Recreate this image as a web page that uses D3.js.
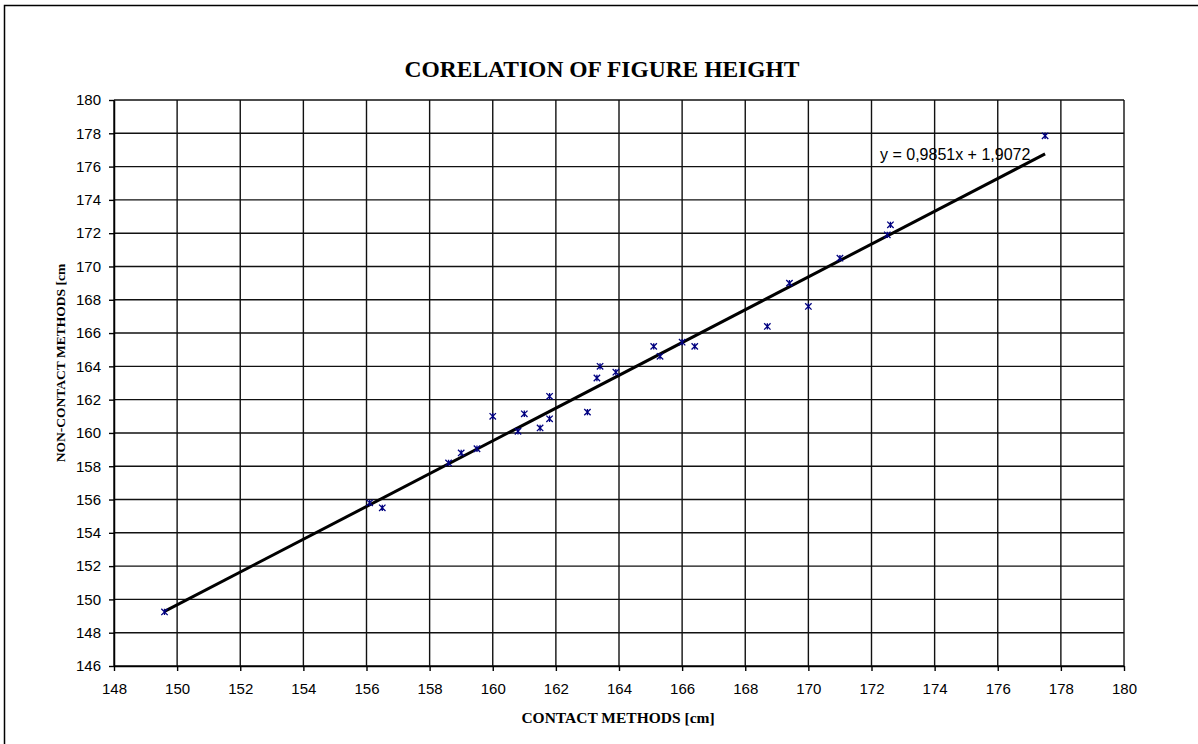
<!DOCTYPE html>
<html>
<head>
<meta charset="utf-8">
<script src="https://cdn.jsdelivr.net/npm/d3@7"></script>
<style>
  body { margin: 0; background: #fff; }
  svg { display: block; }
</style>
</head>
<body>
<svg id="scatter"></svg>
<script>
// measured heights, contact vs non-contact [cm]
let contactCm = [149.6, 156.1, 156.5, 158.6, 159.0, 159.5, 160.0, 160.8, 161.0, 161.5,
  161.8, 161.8, 163.0, 163.3, 163.4, 163.9, 165.1, 165.3, 166.0, 166.4,
  168.7, 169.4, 170.0, 171.0, 172.5, 172.6, 177.5];
let nonContactCm = [149.25, 155.8, 155.5, 158.2, 158.8, 159.05, 161.0, 160.1, 161.15, 160.3,
  160.85, 162.2, 161.25, 163.3, 164.0, 163.65, 165.2, 164.6, 165.45, 165.2,
  166.4, 169.0, 167.6, 170.5, 171.9, 172.5, 177.85];

// linear trend shown on the chart
let trendSlope = 0.9851;
let trendIntercept = 1.9072;
let trendLabel = 'y = 0,9851x + 1,9072';

let xTicks = d3.range(148, 181, 2);
let yTicks = d3.range(146, 181, 2);

let titleText = 'CORELATION OF FIGURE HEIGHT';
let xTitle = 'CONTACT METHODS [cm]';
let yTitle = 'NON-CONTACT METHODS [cm';

// svg / plot config
let config = { svg: {}, plot: {} };
config.svg.width = 1198;
config.svg.height = 744;
config.plot.left = 114;
config.plot.right = 1124;
config.plot.top = 100;
config.plot.bottom = 666;

let svg = d3.select('#scatter')
  .attr('width', config.svg.width)
  .attr('height', config.svg.height);

// outer frame (runs off the right and bottom edges)
svg.append('rect')
  .attr('x', 4.5)
  .attr('y', 5.5)
  .attr('width', 1300)
  .attr('height', 900)
  .attr('fill', 'none')
  .attr('stroke', '#000')
  .attr('stroke-width', 1.5);

let x = d3.scaleLinear()
  .domain([148, 180])
  .range([config.plot.left, config.plot.right]);

let y = d3.scaleLinear()
  .domain([146, 180])
  .range([config.plot.bottom, config.plot.top]);

// grid lines
let grid = svg.append('g').attr('class', 'grid');
grid.selectAll('line.h')
  .data(yTicks)
  .join('line')
  .attr('class', 'h')
  .attr('x1', config.plot.left)
  .attr('x2', config.plot.right)
  .attr('y1', d => y(d))
  .attr('y2', d => y(d))
  .attr('stroke', '#111')
  .attr('stroke-width', 1.4);

grid.selectAll('line.v')
  .data(xTicks)
  .join('line')
  .attr('class', 'v')
  .attr('y1', config.plot.top)
  .attr('y2', config.plot.bottom)
  .attr('x1', d => x(d))
  .attr('x2', d => x(d))
  .attr('stroke', '#111')
  .attr('stroke-width', 1.4);

// axes
let xAxis = d3.axisBottom(x)
  .tickValues(xTicks)
  .tickSize(5)
  .tickSizeOuter(0)
  .tickPadding(12)
  .tickFormat(d3.format('d'));

let yAxis = d3.axisLeft(y)
  .tickValues(yTicks)
  .tickSize(5)
  .tickSizeOuter(0)
  .tickPadding(8)
  .tickFormat(d3.format('d'));

let xGroup = svg.append('g')
  .attr('transform', translate(0, config.plot.bottom))
  .call(xAxis);

let yGroup = svg.append('g')
  .attr('transform', translate(config.plot.left, 0))
  .call(yAxis);

[xGroup, yGroup].forEach(g => {
  g.selectAll('path.domain').attr('stroke', '#000').attr('stroke-width', 1.5);
  g.selectAll('.tick line').attr('stroke', '#000').attr('stroke-width', 1.4);
  g.selectAll('.tick text')
    .attr('fill', '#000')
    .style('font-family', '"Liberation Sans", Arial, sans-serif')
    .style('font-size', '15px');
});

// trend line from min to max of contact data
let xMin = d3.min(contactCm);
let xMax = d3.max(contactCm);
let trendPts = [xMin, xMax].map(v => [v, trendSlope * v + trendIntercept]);

svg.append('path')
  .datum(trendPts)
  .attr('fill', 'none')
  .attr('stroke', '#000')
  .attr('stroke-width', 3)
  .attr('d', d3.line().x(d => x(d[0])).y(d => y(d[1])));

// star markers (x plus vertical bar)
let pairs = contactCm.map((c, i) => ({ c: c, n: nonContactCm[i] }));
let r = 3.2;
svg.append('g')
  .selectAll('path')
  .data(pairs)
  .join('path')
  .attr('transform', d => translate(x(d.c), y(d.n)))
  .attr('d', 'M' + -r + ',' + -r + 'L' + r + ',' + r +
    'M' + -r + ',' + r + 'L' + r + ',' + -r +
    'M0,' + -r + 'L0,' + r)
  .attr('fill', 'none')
  .attr('stroke', '#000080')
  .attr('stroke-width', 1.3);

// trend equation
svg.append('text')
  .attr('x', 880)
  .attr('y', 160)
  .style('font-family', '"Liberation Sans", Arial, sans-serif')
  .style('font-size', '16px')
  .text(trendLabel);

// titles
svg.append('text')
  .attr('x', 602)
  .attr('y', 77)
  .attr('text-anchor', 'middle')
  .style('font-family', '"Liberation Serif", "Times New Roman", serif')
  .style('font-weight', 'bold')
  .style('font-size', '23.5px')
  .text(titleText);

svg.append('text')
  .attr('x', 618)
  .attr('y', 723)
  .attr('text-anchor', 'middle')
  .style('font-family', '"Liberation Serif", "Times New Roman", serif')
  .style('font-weight', 'bold')
  .style('font-size', '15.5px')
  .text(xTitle);

svg.append('text')
  .attr('transform', translate(65, 363) + ' rotate(-90)')
  .attr('text-anchor', 'middle')
  .style('font-family', '"Liberation Serif", "Times New Roman", serif')
  .style('font-weight', 'bold')
  .style('font-size', '13.5px')
  .text(yTitle);

// helper method to make translating easier
function translate(x, y) {
  return 'translate(' + x + ',' + y + ')';
}
</script>
</body>
</html>
